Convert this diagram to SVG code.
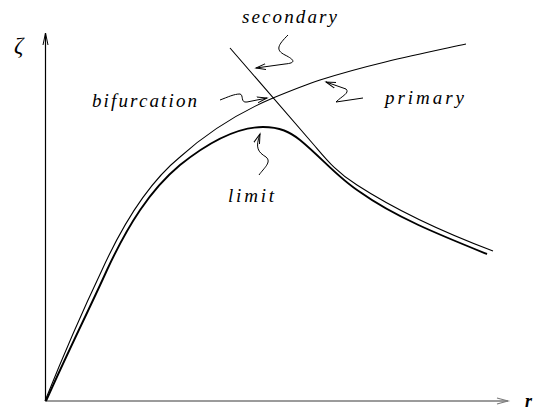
<svg xmlns="http://www.w3.org/2000/svg" width="539" height="410" viewBox="0 0 539 410">
<style>
.lbl{font-family:"Liberation Serif","Times New Roman","DejaVu Serif",serif;font-style:italic;font-size:19px;fill:#000}
.thin{fill:none;stroke:#000;stroke-width:1.1}
.thick{fill:none;stroke:#000;stroke-width:1.9}
.sq{fill:none;stroke:#000;stroke-width:1}
</style>
<defs>
<marker id="ah" markerWidth="12" markerHeight="8" refX="10" refY="4" orient="auto" markerUnits="userSpaceOnUse">
<path d="M0,1 L10,4 L0,7" fill="none" stroke="#000" stroke-width="1"/>
</marker>
</defs>
<rect width="539" height="410" fill="#fff"/>
<g id="axes">
<path d="M45.5,401 L45.5,33" fill="none" stroke="#000" stroke-width="1.2"/>
<path d="M43,45 L45.5,33 L48,45" fill="none" stroke="#000" stroke-width="1"/>
<path d="M45,401 L508,401" fill="none" stroke="#7a7a7a" stroke-width="1.6"/>
<path d="M497,398 L508,401 L497,404" fill="none" stroke="#7a7a7a" stroke-width="1.2"/>
<text x="14" y="53" style="font-family:'Liberation Serif','DejaVu Serif',serif;font-style:italic;font-size:23px">ζ</text>
<text x="525" y="407" style="font-family:'Liberation Serif','DejaVu Serif',serif;font-style:italic;font-weight:bold;font-size:18px">r</text>
</g>
<g id="curves">
<path id="primary-curve" class="thin" d="M45,401 C67,346 83,310 102,270 C122,226 147,184 180,157 C210,130 240,112 273,98 C290,91 305,85 320,80 C370,64 420,54 466,44"/>
<path id="limit-curve" class="thick" d="M46,401 C71,345 88,312 107,270 C128,225 150,190 180,165 C205,145 235,127 263,127 C280,127 290,132 300,140 C322,158 338,178 360,192 C395,217 440,235 487,254"/>
<path id="secondary-curve" class="thin" d="M230,48 L314,145 C326,159 337,173 357,185 C394,209 440,231 493,251"/>
</g>
<g id="label-secondary">
<text class="lbl" x="242" y="23" textLength="95" lengthAdjust="spacing">secondary</text>
<path class="sq" marker-end="url(#ah)" d="M288,35 C278,45 275,50 285,55 C295,60 296,63 285,64 L256,68"/>
</g>
<g id="label-bifurcation">
<text class="lbl" x="92" y="107" textLength="105" lengthAdjust="spacing">bifurcation</text>
<path class="sq" marker-end="url(#ah)" d="M220,100 C228,97 234,94 240,94 C244,95 240,103 247,102 L267,98"/>
</g>
<g id="label-primary">
<text class="lbl" x="385" y="104" textLength="79" lengthAdjust="spacing">primary</text>
<path class="sq" marker-end="url(#ah)" d="M363,98 L336,102 C342,96 350,93 346,89 L326,82"/>
</g>
<g id="label-limit">
<text class="lbl" x="228" y="202" textLength="46" lengthAdjust="spacing">limit</text>
<path class="sq" marker-end="url(#ah)" d="M259,175 C264,168 272,162 266,157 C258,152 255,148 260,134"/>
</g>
</svg>
